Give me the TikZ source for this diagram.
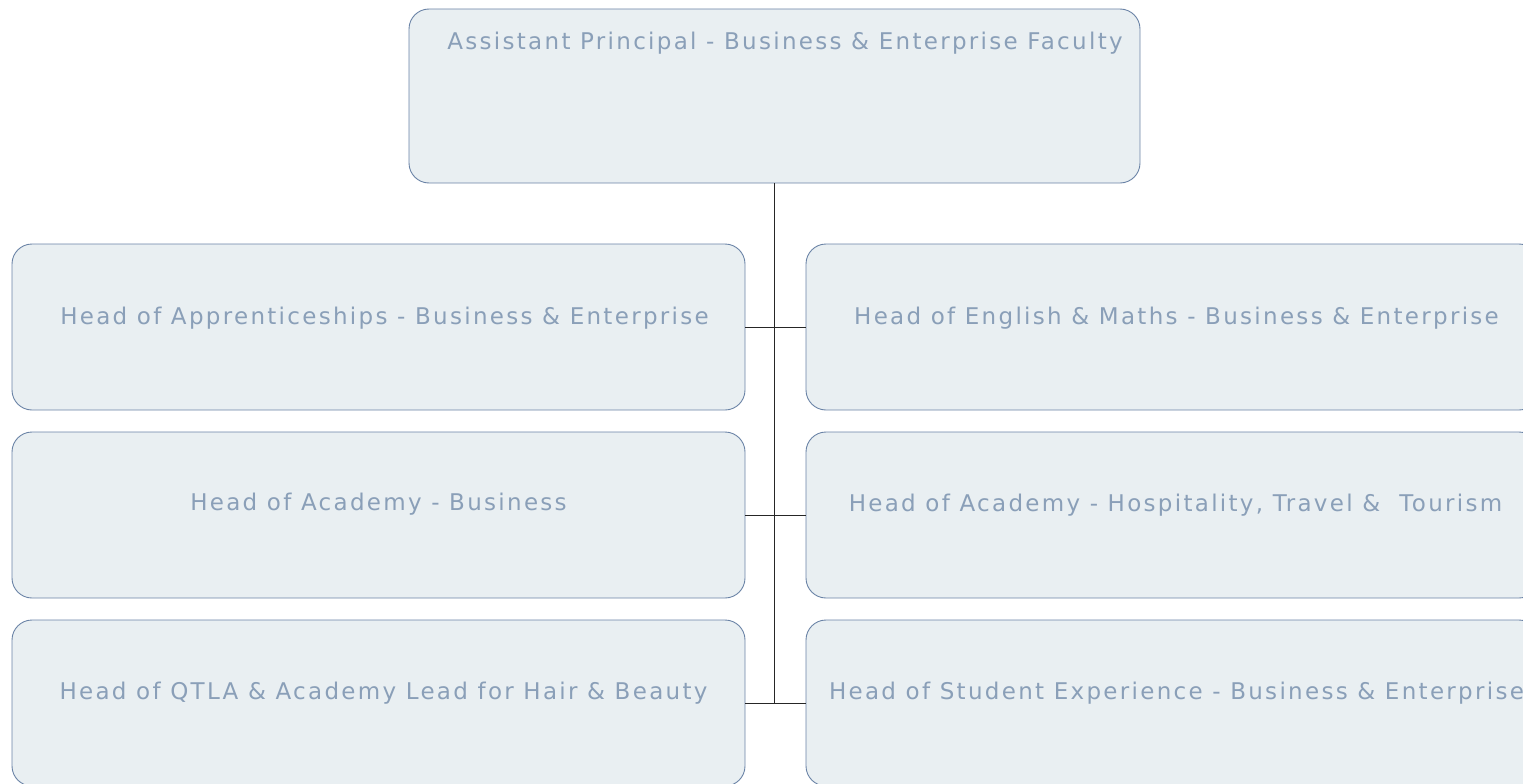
\documentclass[tikz,border=0pt]{standalone}
\usepackage{fontspec}
\setmainfont{DejaVu Sans}
\newfontfamily\cardfont[LetterSpace=10]{DejaVu Sans}
\usetikzlibrary{positioning,calc}
\definecolor{Edge}{HTML}{6A83A6}
\definecolor{Card}{HTML}{E9EFF2}
\definecolor{Label}{HTML}{8A9FB8}
\tikzset{
  card/.style={draw=Edge,line width=0.9pt,rounded corners=20pt,fill=Card,minimum width=733pt,minimum height=166pt,inner sep=0pt},
  txt/.style={font=\cardfont\fontsize{23}{27}\selectfont,text=Label,inner sep=0pt},
  wire/.style={draw=black!85,line width=1pt},
}
\begin{document}
\begin{tikzpicture}[x=1pt,y=-1pt]
\useasboundingbox (0,0) rectangle (1523,784);
% top
\node[card,minimum width=731pt,minimum height=174pt] (ap) at (774.5,96) {};
\node[txt] (apt) at (785,43) {Assistant Principal - Business \& Enterprise Faculty};
% left column
\node[card] (l1) at (378.5,327) {};
\node[card] (l2) at (378.5,515) {};
\node[card] (l3) at (378.5,703) {};
% right column
\node[card] (r1) at (1172.5,327) {};
\node[card] (r2) at (1172.5,515) {};
\node[card] (r3) at (1172.5,703) {};
% labels
\node[txt] (l1t) at ($(l1.center)+(6,-9)$) {Head of Apprenticeships - Business \& Enterprise};
\node[txt] (l2t) at ($(l2.center)+(0,-11)$) {Head of Academy - Business};
\node[txt] (l3t) at ($(l3.center)+(5,-10)$) {Head of QTLA \& Academy Lead for Hair \& Beauty};
\node[txt] (r1t) at ($(r1.center)+(4,-9)$) {Head of English \& Maths - Business \& Enterprise};
\node[txt] (r2t) at ($(r2.center)+(3,-10)$) {Head of Academy - Hospitality, Travel \&\ \ Tourism};
\node[txt] (r3t) at ($(r3.center)+(4,-10)$) {Head of Student Experience - Business \& Enterprise};
% connectors
\coordinate (trunk) at (ap.south |- l3.east);
\draw[wire] (ap.south) -- (trunk);
\draw[wire] (l1.east) -- (r1.west);
\draw[wire] (l2.east) -- (r2.west);
\draw[wire] (l3.east) -- (r3.west);
\end{tikzpicture}
\end{document}
